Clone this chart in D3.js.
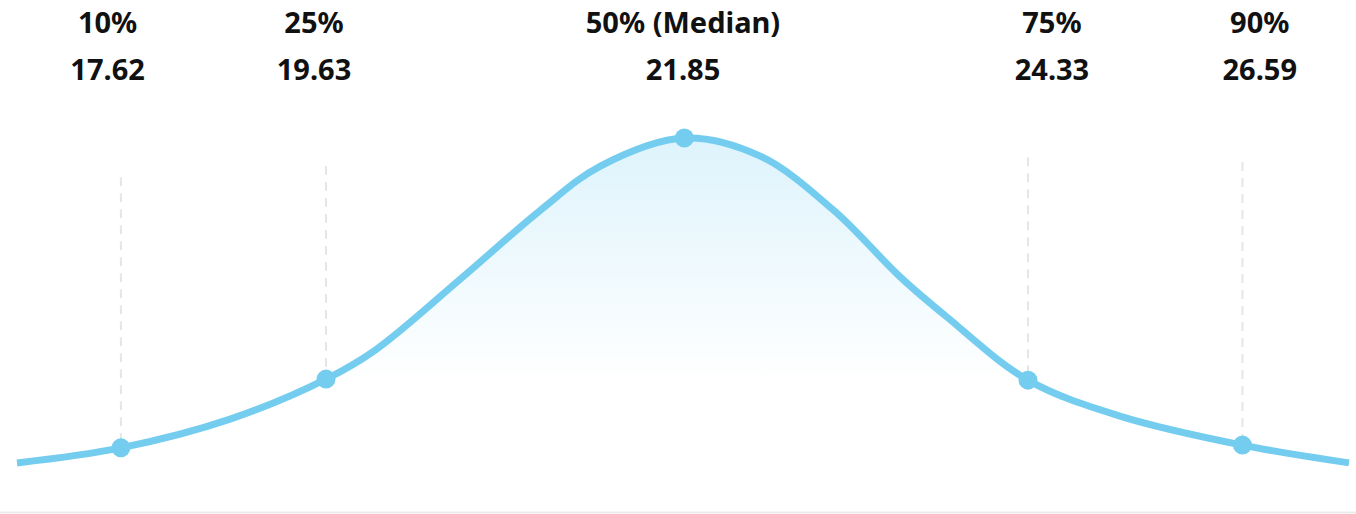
<!DOCTYPE html>
<html>
<head>
<meta charset="utf-8">
<script src="https://cdn.jsdelivr.net/npm/d3@7"></script>
<style>
  html, body { margin: 0; padding: 0; background: #fff; }
  svg { display: block; }
  text { font-family: "Noto Sans", "Open Sans", sans-serif; font-weight: 700; fill: #111; }
</style>
</head>
<body>
<svg id="chart" width="1356" height="514"></svg>
<script>
// ---- data ----
// density curve sampled along a 0..100 position axis
const curveX = [0, 7.8, 16.0, 23.2, 26.9, 33.3, 39.3, 43.8, 50.1, 55.8, 61.3, 66.3, 69.8, 75.9, 82.8, 92.0, 100];
const curveY = [5.0, 9.4, 17.8, 29.5, 38.0, 58.8, 78.9, 91.8, 100, 94.7, 78.9, 59.4, 47.7, 29.2, 18.7, 10.2, 5.0];
// percentile markers
const pctLabels = ["10%", "25%", "50% (Median)", "75%", "90%"];
const pctValues = ["17.62", "19.63", "21.85", "24.33", "26.59"];
const markerX = [7.8, 23.2, 50.1, 75.9, 92.0];
const markerY = [9.4, 29.5, 100, 29.2, 10.2];
const labelX = [6.8, 22.3, 50.0, 77.7, 93.3];
const guideTop = [88.5, 91.8, null, 94.4, 93.0];

// ---- layout ----
const svg = d3.select("#chart");
const W = 1356, H = 514;
const x = d3.scaleLinear().domain([0, 100]).range([17, 1349]);
const y = d3.scaleLinear().domain([0, 100]).range([480, 138]);

const lineColor = "#74cdef";

const defs = svg.append("defs");
const grad = defs.append("linearGradient")
  .attr("id", "fillGrad")
  .attr("gradientUnits", "userSpaceOnUse")
  .attr("x1", 0).attr("x2", 0)
  .attr("y1", y(100)).attr("y2", y(28));
grad.append("stop").attr("offset", "0%").attr("stop-color", "#8fd8f3").attr("stop-opacity", 0.3);
grad.append("stop").attr("offset", "100%").attr("stop-color", "#8fd8f3").attr("stop-opacity", 0);

const pts = curveX.map((d, i) => [d, curveY[i]]);
const crv = d3.curveCatmullRom.alpha(0.5);

// bottom baseline
svg.append("line")
  .attr("x1", 0).attr("x2", W)
  .attr("y1", 512.5).attr("y2", 512.5)
  .attr("stroke", "#ebebeb").attr("stroke-width", 2);

// area fill
const area = d3.area()
  .x(d => x(d[0]))
  .y0(y(0))
  .y1(d => y(d[1]))
  .curve(crv);
svg.append("path")
  .datum(pts)
  .attr("d", area)
  .attr("fill", "url(#fillGrad)");

// dashed guides (not for median)
markerX.forEach((mx, i) => {
  if (guideTop[i] == null) return;
  svg.append("line")
    .attr("x1", x(mx)).attr("x2", x(mx))
    .attr("y1", y(guideTop[i])).attr("y2", y(markerY[i]))
    .attr("stroke", "#e6e6e6")
    .attr("stroke-width", 2)
    .attr("stroke-dasharray", "9,7");
});

// curve
const line = d3.line()
  .x(d => x(d[0]))
  .y(d => y(d[1]))
  .curve(crv);
svg.append("path")
  .datum(pts)
  .attr("d", line)
  .attr("fill", "none")
  .attr("stroke", lineColor)
  .attr("stroke-width", 7)
  .attr("stroke-linecap", "butt")
  .attr("stroke-linejoin", "round");

// markers
svg.selectAll("circle.marker")
  .data(markerX.map((d, i) => [d, markerY[i]]))
  .join("circle")
  .attr("class", "marker")
  .attr("cx", d => x(d[0]))
  .attr("cy", d => y(d[1]))
  .attr("r", 9.5)
  .attr("fill", lineColor);

// labels
const lab = svg.selectAll("g.lab")
  .data(pctLabels.map((d, i) => ({ name: d, val: pctValues[i], lx: labelX[i] })))
  .join("g")
  .attr("class", "lab");
lab.append("text")
  .attr("x", d => x(d.lx))
  .attr("y", 33)
  .attr("text-anchor", "middle")
  .attr("font-size", 29)
  .text(d => d.name);
lab.append("text")
  .attr("x", d => x(d.lx))
  .attr("y", 80)
  .attr("text-anchor", "middle")
  .attr("font-size", 29)
  .text(d => d.val);
</script>
</body>
</html>
